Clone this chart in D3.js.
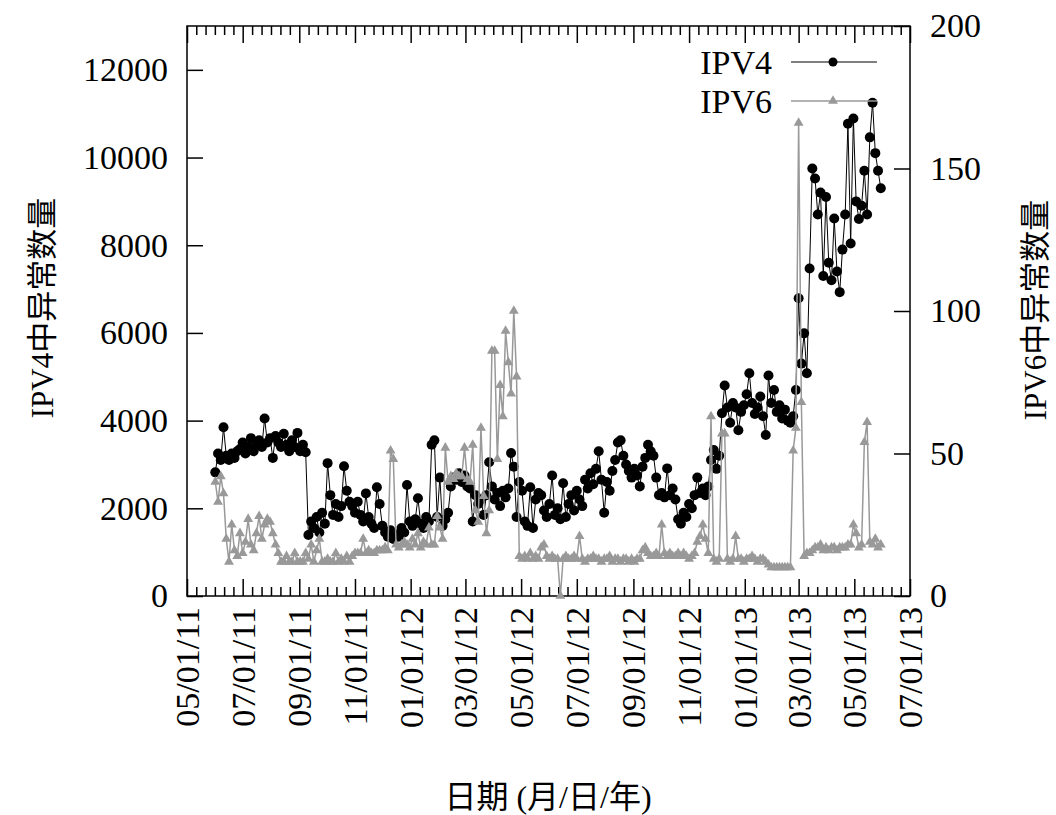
<!DOCTYPE html>
<html><head><meta charset="utf-8">
<script src="https://cdn.jsdelivr.net/npm/d3@7"></script>
<style>body{margin:0;background:#fff}svg{display:block}</style>
</head><body><svg id="c" width="1056" height="815"></svg>
<script>
// ---- data ----
const startDate = "2011-06-01";   // first sample
const stepDays = 3;               // sampling interval of the arrays below
const ipv4 = [
2820,3250,3100,3850,3200,3100,3250,3150,3300,3350,
3500,3250,3400,3600,3300,3450,3550,3400,4050,3500,
3600,3150,3650,3500,3400,3700,3450,3300,3550,3400,
3720,3300,3450,3280,1390,1700,1550,1800,1450,1900,
1650,3030,2300,1850,2100,1800,2050,2960,2400,2150,
2050,1900,2150,1850,1700,2340,1800,1650,1550,2480,
2100,1600,1450,1350,1500,1300,1400,1350,1550,1450,
2530,1700,1600,1750,2230,1650,1550,1800,1700,3450,
3550,1800,2700,1600,1750,1900,2500,2700,2650,2800,
2600,2750,2500,2450,1700,2300,2100,2200,1850,2300,
3050,2500,2200,2350,2050,2400,2250,2450,3260,2950,
1800,2600,2400,1700,1600,2480,1550,2200,2350,2300,
1950,1800,2100,2750,1850,2000,1750,2570,1800,2100,
2300,1950,2400,2200,2050,2650,2450,2800,2550,2900,
3300,2650,1900,2600,2400,2850,3100,3500,3550,3200,
3000,2850,2700,2900,2750,2500,2950,3150,3450,3300,
3200,2700,2300,2350,2250,2910,2300,2450,2200,1750,
1650,1900,1800,2100,2000,2300,2700,2350,2450,2300,
2500,3100,3330,2900,3200,4170,4800,4300,3950,4400,
4300,3780,4200,4350,4600,5080,4400,4150,4300,4550,
4100,3670,5030,4400,4700,4200,4350,4050,4250,4000,
3950,4100,4700,6790,5300,5990,5080,7470,9750,9520,
8700,9200,7300,9100,7600,7200,8610,7400,6930,7900,
8700,10770,8040,10890,9000,8600,8900,9700,8700,10460,
11250,10100,9700,9300
];
const ipv6 = [
40,33,42,36,20,12,25,16,14,22,
15,19,27,18,16,22,28,20,25,27,
26,22,18,15,12,12,14,12,12,15,
12,12,12,15,13,18,12,16,20,12,
12,13,12,12,15,12,13,12,14,12,
14,15,15,15,20,15,16,15,15,16,
16,16,17,16,51,48,18,17,18,19,
18,17,20,18,22,17,19,18,24,18,
18,28,24,20,52,40,42,41,43,42,
42,52,41,40,53,30,26,59,35,22,
30,86,86,48,74,63,93,82,71,100,
77,14,13,14,13,15,13,14,13,17,
18,14,13,14,13,13,0,13,14,13,
13,14,13,21,13,12,13,13,14,13,
13,12,13,13,14,12,13,13,12,13,
13,12,13,12,13,13,16,17,15,14,
14,15,14,25,15,14,15,14,14,15,
14,15,14,13,14,15,19,21,25,20,
15,63,13,12,13,57,57,13,12,13,
21,13,13,12,13,13,14,13,12,13,
13,12,11,10,10,10,10,10,10,10,
10,51,59,166,68,14,15,15,16,17,
17,18,16,17,16,17,17,16,17,17,
17,18,18,25,22,17,18,54,61,19,
18,20,17,18
];
const xTickLabels = ["05/01/11","07/01/11","09/01/11","11/01/11","01/01/12","03/01/12","05/01/12","07/01/12","09/01/12","11/01/12","01/01/13","03/01/13","05/01/13","07/01/13"];
const yLeftTicks = [0,2000,4000,6000,8000,10000,12000];
const yRightTicks = [0,50,100,150,200];
const seriesNames = ["IPV4","IPV6"];
const axisTitles = {x:"日期 (月/日/年)", yLeft:"IPV4中异常数量", yRight:"IPV6中异常数量"};

// ---- layout ----
const L=187, R=910, T=26, B=596;
const FONT = "'Liberation Serif','Times New Roman','Noto Sans CJK SC',serif";
const GRAY = "#999999";
const svg = d3.select("#c");

const parse = d3.timeParse("%m/%d/%y");
const majors = xTickLabels.map(parse);
const x = d3.scaleTime().domain([majors[0], majors[majors.length-1]]).range([L,R]);
const yL = d3.scaleLinear().domain([0,13000]).range([B,T]);
const yR = d3.scaleLinear().domain([0,200]).range([B,T]);

const t0 = d3.timeParse("%Y-%m-%d")(startDate);
const d4 = ipv4.map((v,i)=>({date:d3.timeDay.offset(t0,i*stepDays), v}));
const d6 = ipv6.map((v,i)=>({date:d3.timeDay.offset(t0,i*stepDays), v}));

// minor ticks: 5 between each pair of majors
const minors = [];
for (let k=0;k<majors.length-1;k++){
  const a=+majors[k], b=+majors[k+1];
  for (let j=1;j<6;j++) minors.push(new Date(a+(b-a)*j/6));
}

function styleAxis(g){
  g.select(".domain").remove();
  g.selectAll("line").attr("stroke","#000").attr("stroke-width",1.5);
  g.selectAll("text").attr("font-family",FONT).attr("font-size",34).attr("fill","#000");
}

// x axes (bottom + mirrored top)
svg.append("g").attr("transform",`translate(0,${B})`)
  .call(d3.axisBottom(x).tickValues(minors).tickSize(-9).tickFormat(""))
  .call(styleAxis);
svg.append("g").attr("transform",`translate(0,${T})`)
  .call(d3.axisTop(x).tickValues(minors).tickSize(-9).tickFormat(""))
  .call(styleAxis);
svg.append("g").attr("transform",`translate(0,${T})`)
  .call(d3.axisTop(x).tickValues(majors).tickSize(-17).tickFormat(""))
  .call(styleAxis);
const xb = svg.append("g").attr("transform",`translate(0,${B})`)
  .call(d3.axisBottom(x).tickValues(majors).tickSize(-17).tickFormat(d3.timeFormat("%m/%d/%y")))
  .call(styleAxis);
xb.selectAll("text")
  .attr("transform","rotate(-90)")
  .attr("text-anchor","end")
  .attr("x",-11).attr("y",0).attr("dy","0.34em");

// y axes
svg.append("g").attr("transform",`translate(${L},0)`)
  .call(d3.axisLeft(yL).tickValues(yLeftTicks).tickSize(-16).tickPadding(19).tickFormat(d3.format("d")))
  .call(styleAxis);
svg.append("g").attr("transform",`translate(${R},0)`)
  .call(d3.axisRight(yR).tickValues(yRightTicks).tickSize(-16).tickPadding(20).tickFormat(d3.format("d")))
  .call(styleAxis);

// frame
svg.append("rect").attr("x",L).attr("y",T).attr("width",R-L).attr("height",B-T)
  .attr("fill","none").attr("stroke","#000").attr("stroke-width",1.5);

// IPV4 series
svg.append("path").datum(d4).attr("fill","none").attr("stroke","#000").attr("stroke-width",1)
  .attr("d",d3.line().x(d=>x(d.date)).y(d=>yL(d.v)));
svg.append("g").selectAll("circle").data(d4).join("circle")
  .attr("cx",d=>x(d.date)).attr("cy",d=>yL(d.v)).attr("r",5).attr("fill","#000");

// IPV6 series
const tri = d3.symbol().type(d3.symbolTriangle).size(42);
svg.append("path").datum(d6).attr("fill","none").attr("stroke",GRAY).attr("stroke-width",1.5)
  .attr("d",d3.line().x(d=>x(d.date)).y(d=>yR(d.v)));
svg.append("g").selectAll("path").data(d6).join("path")
  .attr("transform",d=>`translate(${x(d.date)},${yR(d.v)})`).attr("d",tri).attr("fill",GRAY);

// legend
const leg = [{name:seriesNames[0],y:62,color:"#000",mk:"c"},{name:seriesNames[1],y:101,color:GRAY,mk:"t"}];
leg.forEach(e=>{
  svg.append("text").attr("x",772).attr("y",e.y).attr("dy","0.35em").attr("text-anchor","end")
    .attr("font-family",FONT).attr("font-size",34).text(e.name);
  svg.append("line").attr("x1",791).attr("x2",877).attr("y1",e.y).attr("y2",e.y)
    .attr("stroke",e.color).attr("stroke-width",e.mk==="c"?1:1.5);
  if(e.mk==="c") svg.append("circle").attr("cx",833).attr("cy",e.y).attr("r",4.5).attr("fill","#000");
  else svg.append("path").attr("transform",`translate(833,${e.y})`).attr("d",tri).attr("fill",GRAY);
});

// axis titles
svg.append("text").attr("x",548).attr("y",797).attr("dy","0.35em").attr("text-anchor","middle")
  .attr("font-family",FONT).attr("font-size",32).text(axisTitles.x);
svg.append("text").attr("transform","translate(42,308) rotate(-90)").attr("dy","0.35em").attr("text-anchor","middle")
  .attr("font-family",FONT).attr("font-size",31).text(axisTitles.yLeft);
svg.append("text").attr("transform","translate(1037,310) rotate(-90)").attr("dy","0.3em").attr("text-anchor","middle")
  .attr("font-family",FONT).attr("font-size",31).text(axisTitles.yRight);
</script>
</body></html>
